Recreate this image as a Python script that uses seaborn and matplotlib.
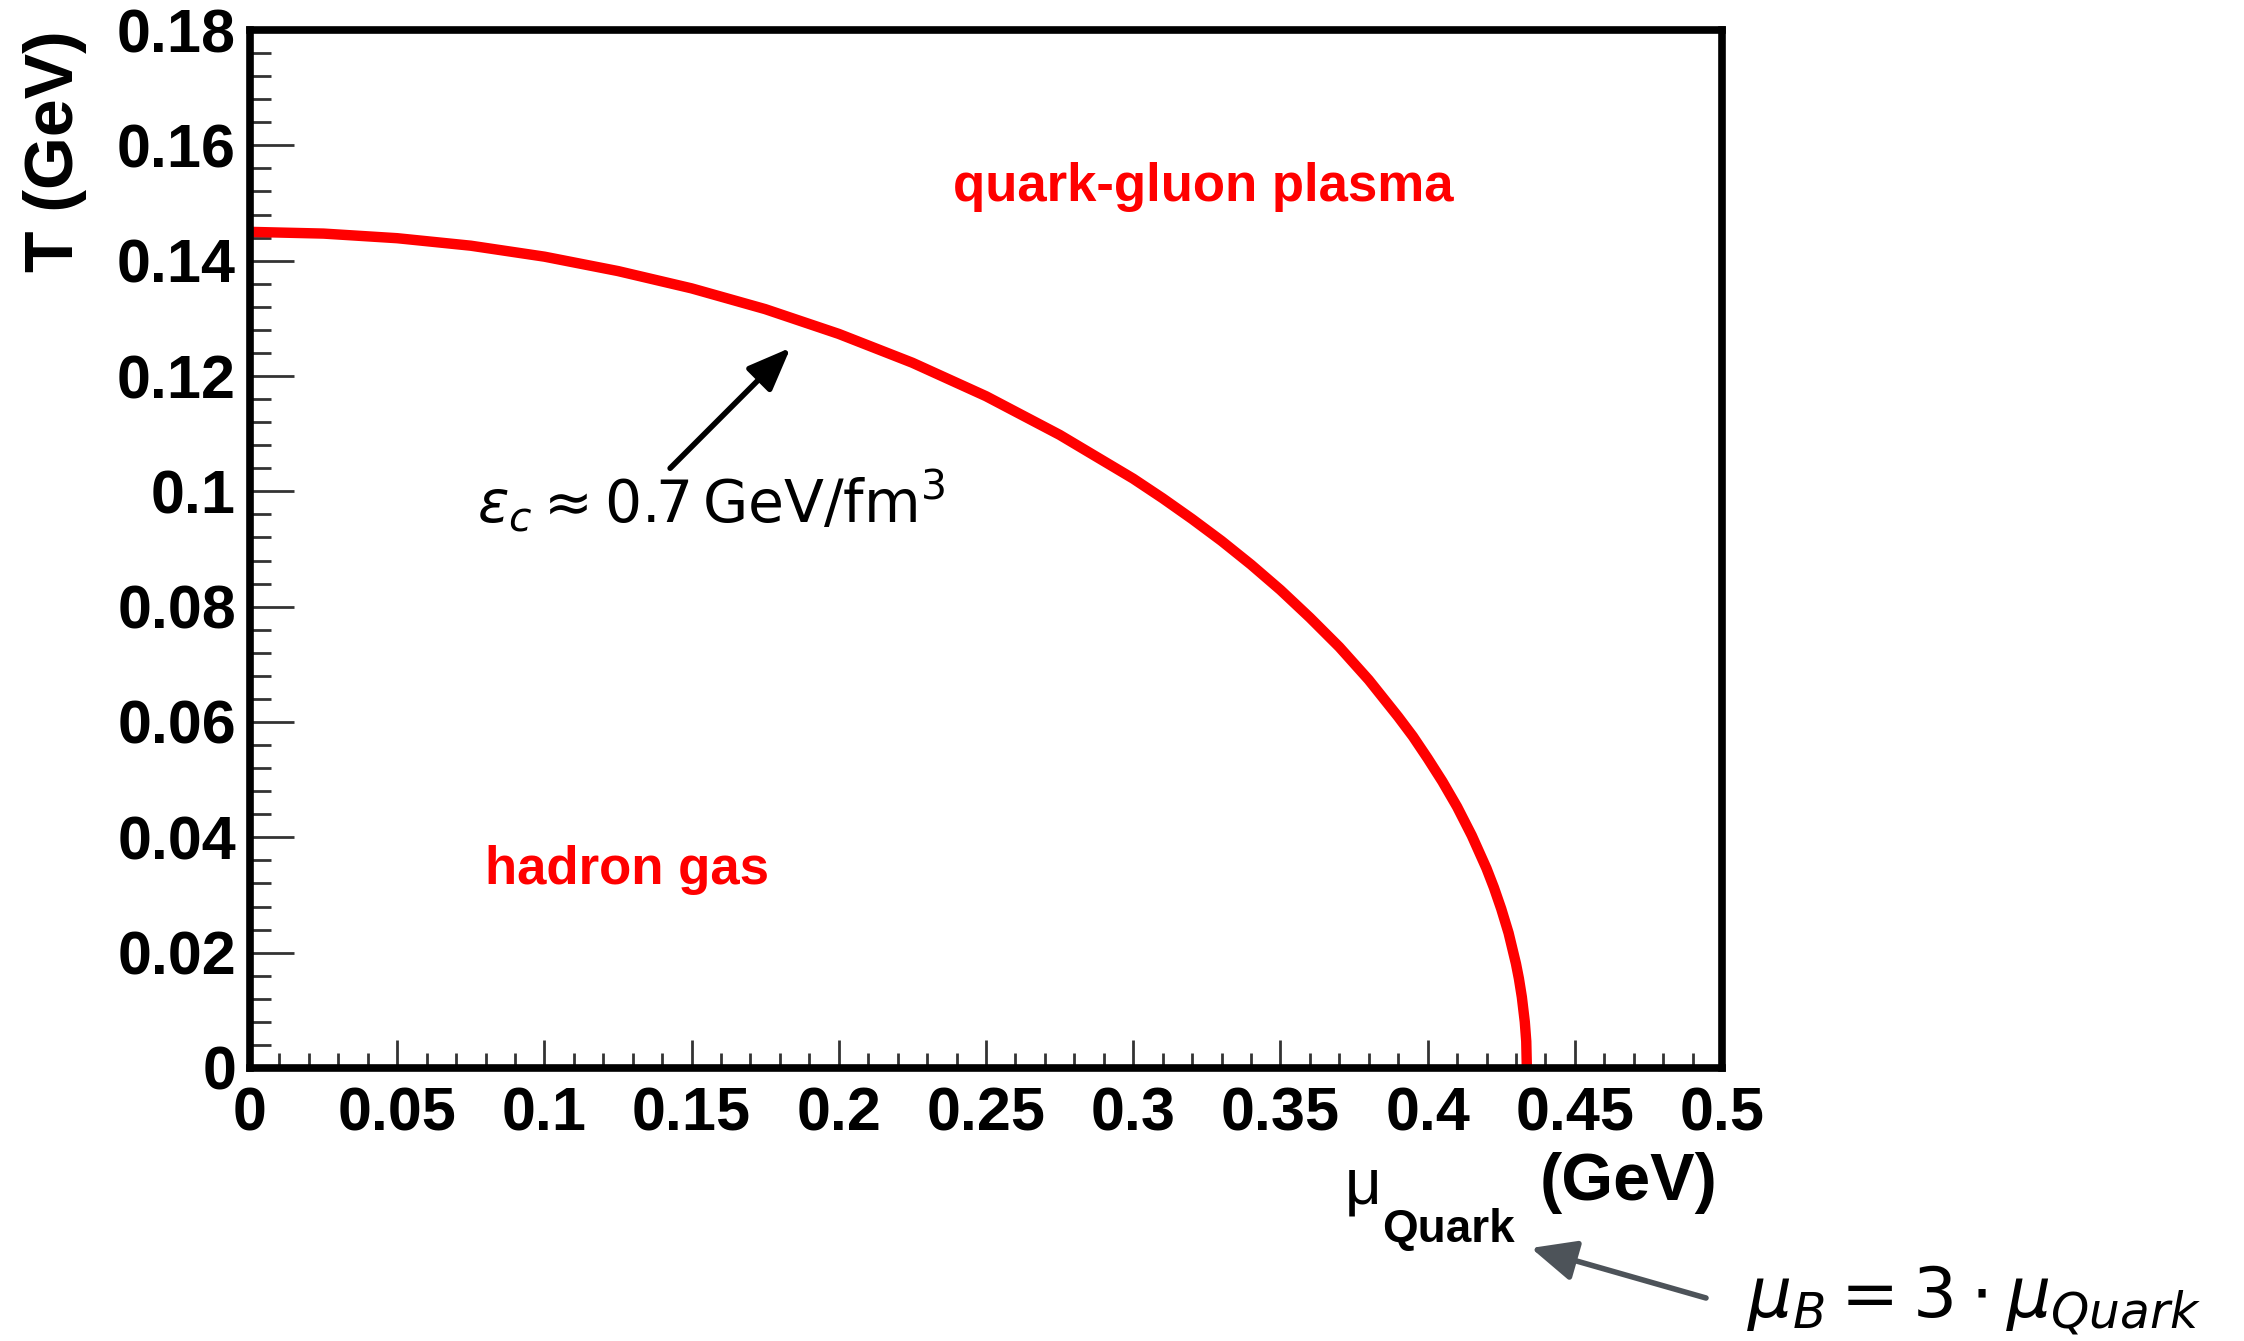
import matplotlib
matplotlib.use("Agg")
import matplotlib.pyplot as plt
import pandas as pd
import seaborn as sns
from matplotlib.ticker import MultipleLocator

# Phase boundary: quark chemical potential vs temperature (GeV)
mu_quark = [0.0, 0.025, 0.05, 0.075, 0.10, 0.125, 0.15, 0.175, 0.20, 0.225, 0.25,
            0.275, 0.30, 0.31, 0.32, 0.33, 0.34, 0.35, 0.36, 0.37, 0.38, 0.39,
            0.395, 0.40, 0.405, 0.41, 0.415, 0.42, 0.4225, 0.425, 0.4275, 0.43,
            0.431, 0.432, 0.433, 0.4335, 0.4337]
temp = [0.1450, 0.1447, 0.1439, 0.1426, 0.1407, 0.1382, 0.1352, 0.1316, 0.1273,
        0.1223, 0.1165, 0.1098, 0.1022, 0.0988, 0.0952, 0.0914, 0.0873, 0.0829,
        0.0781, 0.0730, 0.0673, 0.0609, 0.0575, 0.0537, 0.0497, 0.0453, 0.0403,
        0.0346, 0.0313, 0.0276, 0.0234, 0.0181, 0.0155, 0.0123, 0.0080, 0.0046,
        0.0]

x_ticks = [0, 0.05, 0.1, 0.15, 0.2, 0.25, 0.3, 0.35, 0.4, 0.45, 0.5]
x_tick_labels = ["0", "0.05", "0.1", "0.15", "0.2", "0.25", "0.3", "0.35", "0.4", "0.45", "0.5"]
y_ticks = [0, 0.02, 0.04, 0.06, 0.08, 0.1, 0.12, 0.14, 0.16, 0.18]
y_tick_labels = ["0", "0.02", "0.04", "0.06", "0.08", "0.1", "0.12", "0.14", "0.16", "0.18"]

sns.set_theme(style="white")
plt.rcParams["font.family"] = ["Liberation Sans", "DejaVu Sans"]
plt.rcParams["mathtext.fontset"] = "dejavusans"
plt.rcParams["text.color"] = "black"
plt.rcParams["axes.labelcolor"] = "black"

fig = plt.figure(figsize=(22.44, 13.41), dpi=100)
ax = fig.add_axes([0.1114, 0.2036, 0.656, 0.774])

df = pd.DataFrame({"mu": mu_quark, "T": temp})
sns.lineplot(data=df, x="mu", y="T", color="red", linewidth=7.5, sort=False, ax=ax)

ax.set_xlim(0, 0.5)
ax.set_ylim(0, 0.18)
ax.set_xticks(x_ticks)
ax.set_xticklabels(x_tick_labels)
ax.set_yticks(y_ticks)
ax.set_yticklabels(y_tick_labels)
ax.xaxis.set_minor_locator(MultipleLocator(0.01))
ax.yaxis.set_minor_locator(MultipleLocator(0.004))

ax.tick_params(which="both", direction="in", top=False, right=False,
               bottom=True, left=True, color="#333333", labelcolor="black")
ax.tick_params(axis="y", which="major", length=32, width=2, pad=10, labelsize=44)
ax.tick_params(axis="y", which="minor", length=15, width=2)
ax.tick_params(axis="x", which="major", length=20, width=2, pad=13, labelsize=44)
ax.tick_params(axis="x", which="minor", length=11, width=2)
for lab in ax.get_xticklabels() + ax.get_yticklabels():
    lab.set_fontweight("bold")

for s in ax.spines.values():
    s.set_linewidth(5.5)
    s.set_color("black")

# axis titles
ax.set_ylabel("T (GeV)", loc="top", fontsize=49, fontweight="bold", color="black")
ax.yaxis.set_label_coords(-0.111, 1.0)
ax.set_xlabel("(GeV)", loc="right", fontsize=48, fontweight="bold", color="black")
ax.xaxis.set_label_coords(0.9966, -0.081)
fig.text(1345 / 2244, 1 - 1203 / 1341, "μ", fontsize=46, ha="left", va="baseline")
fig.text(1382 / 2244, 1 - 1242 / 1341, "Quark", fontsize=33, fontweight="bold",
         ha="left", va="baseline")

# region labels
ax.text(0.3237, 0.1528, "quark-gluon plasma", color="red", fontsize=38,
        fontweight="bold", ha="center", va="center")
ax.text(0.128, 0.0343, "hadron gas", color="red", fontsize=38,
        fontweight="bold", ha="center", va="center")

# critical energy density
ax.text(0.077, 0.0945, r"$\varepsilon_c \approx 0.7\,\mathrm{GeV}/\mathrm{fm}^3$",
        fontsize=42, ha="left", va="baseline", color="black")
ax.annotate("", xy=(0.1836, 0.1249), xytext=(0.1427, 0.1040),
            arrowprops=dict(arrowstyle="-|>,head_length=0.55,head_width=0.22",
                            color="black", lw=4, mutation_scale=48,
                            shrinkA=0, shrinkB=0))

# baryon chemical potential note
fig.text(1747 / 2244, 1 - 1318 / 1341, r"$\mu_B = 3 \cdot \mu_{Quark}$",
         fontsize=50, ha="left", va="baseline", color="black")
ax.annotate("", xy=(1531 / 2244, 1 - 1248 / 1341), xycoords="figure fraction",
            xytext=(1706 / 2244, 1 - 1298 / 1341), textcoords="figure fraction",
            arrowprops=dict(arrowstyle="-|>,head_length=0.55,head_width=0.25",
                            color="#4d5359", lw=4, mutation_scale=50,
                            shrinkA=0, shrinkB=0),
            annotation_clip=False)

plt.savefig("out.png", dpi=100)
